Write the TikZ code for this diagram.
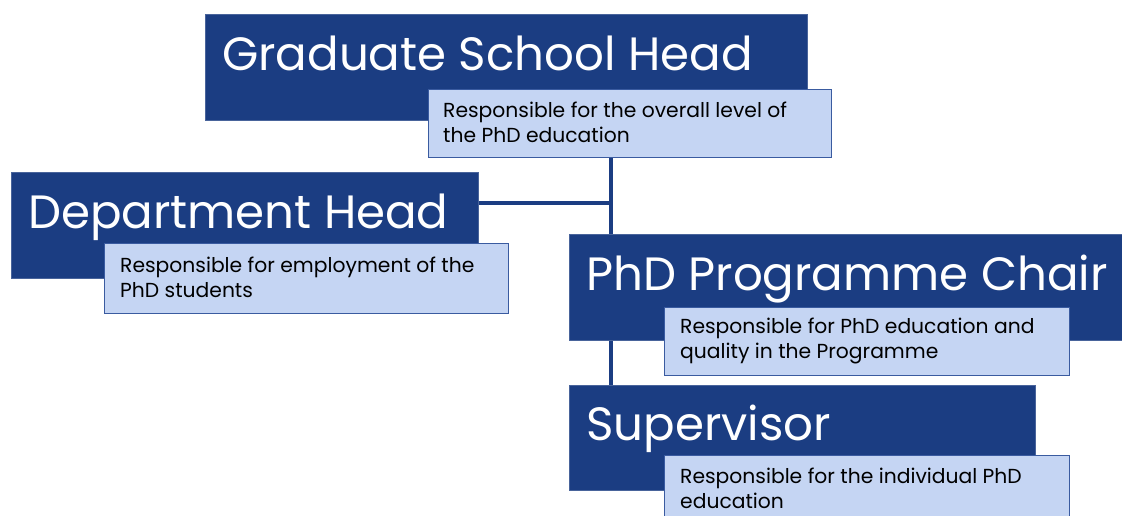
\documentclass[tikz,border=0pt]{standalone}
\usepackage{fontspec}
\setmainfont{Poppins}
\definecolor{darkblue}{HTML}{1B3D82}
\definecolor{lightfill}{HTML}{C5D5F3}
\definecolor{lightedge}{HTML}{3A5BA0}
\newcommand{\twolines}[2]{\begin{tabular}[t]{@{}l@{}}#1\\#2\end{tabular}}
\begin{document}
\begin{tikzpicture}[x=1pt,y=-1pt,
  darkbox/.style={draw=darkblue!80!white,line width=0.8pt,fill=darkblue,anchor=north west,inner sep=0pt},
  lightbox/.style={draw=lightedge,line width=1.2pt,fill=lightfill,anchor=north west,inner sep=0pt},
  title/.style={anchor=base west,inner sep=0pt,text=white,font=\fontsize{46.7}{50}\selectfont},
  desc/.style={anchor=base west,inner sep=0pt,text=black,font=\fontsize{20.3}{25.5}\selectfont},
  conn/.style={draw=darkblue,line width=4pt}]
\useasboundingbox (0,0) rectangle (1122,515);
\coordinate (spine) at (611,0);
\coordinate (j) at (611,203);
% boxes
\node[darkbox,minimum width=602,minimum height=106] (gsh) at (205,14) {};
\node[darkbox,minimum width=467,minimum height=106] (dh) at (11,172) {};
\node[darkbox,minimum width=560,minimum height=106] (ppc) at (569,234) {};
\node[darkbox,minimum width=466,minimum height=105] (sup) at (569,385) {};
% connectors
\draw[conn] (gsh.south -| spine) -- (sup.north -| spine);
\draw[conn] (j -| dh.east) -- (j);
% boxes drawn above the connectors
\node[darkbox,minimum width=560,minimum height=106] (ppcf) at (569,234) {};
\node[darkbox,minimum width=466,minimum height=105] (supf) at (569,385) {};
\node[lightbox,minimum width=403,minimum height=68] (gshd) at (428,89) {};
\node[lightbox,minimum width=404,minimum height=70] (dhd) at (104,243) {};
\node[lightbox,minimum width=405,minimum height=68] (ppcd) at (664,307) {};
\node[lightbox,minimum width=405,minimum height=70] (supd) at (664,455) {};
% titles
\node[title] (t1) at (222,70) {Graduate School Head};
\node[title] (t2) at (28,228) {Department Head};
\node[title] (t3) at (586,290) {PhD Programme Chair};
\node[title] (t4) at (586,440) {Supervisor};
% descriptions
\node[desc] (d1) at (443,117) {\twolines{Responsible for the overall level of}{the PhD education}};
\node[desc] (d2) at (120,272) {\twolines{Responsible for employment of the}{PhD students}};
\node[desc] (d3) at (680,333) {\twolines{Responsible for PhD education and}{quality in the Programme}};
\node[desc] (d4) at (680,483) {\twolines{Responsible for the individual PhD}{education}};
\end{tikzpicture}
\end{document}
